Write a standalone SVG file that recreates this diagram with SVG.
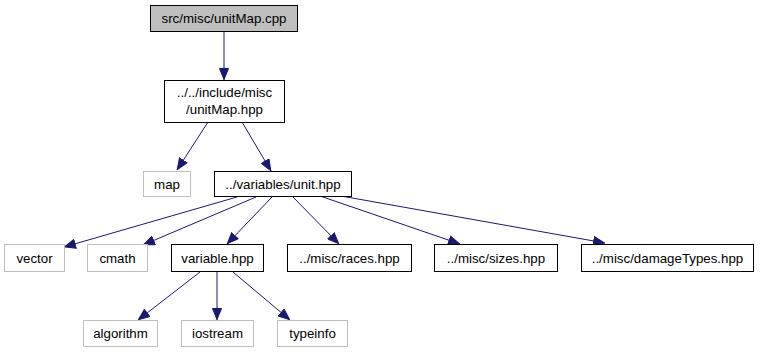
<svg xmlns="http://www.w3.org/2000/svg" width="760" height="352" viewBox="0 0 760 352">
  <style>
    .bg { fill: #ffffff; }
    .node rect { fill: #ffffff; stroke: #000000; stroke-width: 1; }
    .node.root rect { fill: #bfbfbf; }
    .node.ext rect { stroke: #bfbfbf; }
    .node text { font-family: "Liberation Sans", Arial, Helvetica, sans-serif; font-size: 13.3px; fill: #000000; text-anchor: middle; }
    .edges path { fill: none; stroke: #191970; stroke-width: 1; marker-end: url(#arrow); }
  </style>
  <defs>
    <marker id="arrow" markerUnits="userSpaceOnUse" viewBox="0 0 12 10" markerWidth="12" markerHeight="10" refX="12" refY="5" orient="auto">
      <path d="M0.5,0.5 L11.5,5 L0.5,9.5 z" fill="#191970" stroke="#191970" stroke-width="1"/>
    </marker>
  </defs>
  <rect class="bg" x="0" y="0" width="760" height="352"/>

  <g class="edges" id="edges">
    <path d="M224,31 L224,80"/>
    <path d="M208,122 L177,170"/>
    <path d="M242,122 L271,171"/>
    <path d="M237,197 L64,247"/>
    <path d="M256,197 L143,245"/>
    <path d="M272,197 L227,244"/>
    <path d="M293,197 L339,244"/>
    <path d="M320,196 L460,244"/>
    <path d="M341,196 L605,243"/>
    <path d="M200,272 L138,320"/>
    <path d="M217,272 L217,320"/>
    <path d="M233,272 L290,320"/>
  </g>

  <g class="node root" id="node-unitMap-cpp">
    <rect x="150.5" y="5.5" width="147" height="26"/>
    <text x="224" y="23">src/misc/unitMap.cpp</text>
  </g>
  <g class="node" id="node-unitMap-hpp">
    <rect x="164.5" y="80.5" width="120" height="42"/>
    <text x="224.5" y="97">../../include/misc</text>
    <text x="224.5" y="114">/unitMap.hpp</text>
  </g>
  <g class="node ext" id="node-map">
    <rect x="143.5" y="171.5" width="47" height="25"/>
    <text x="167" y="188.5">map</text>
  </g>
  <g class="node" id="node-unit-hpp">
    <rect x="214.5" y="171.5" width="137" height="25"/>
    <text x="283" y="188.5">../variables/unit.hpp</text>
  </g>
  <g class="node ext" id="node-vector">
    <rect x="4.5" y="244.5" width="60" height="27"/>
    <text x="34.5" y="262.5">vector</text>
  </g>
  <g class="node ext" id="node-cmath">
    <rect x="87.5" y="244.5" width="60" height="27"/>
    <text x="117.5" y="262.5">cmath</text>
  </g>
  <g class="node" id="node-variable-hpp">
    <rect x="171.5" y="244.5" width="92" height="27"/>
    <text x="217.5" y="262.5">variable.hpp</text>
  </g>
  <g class="node" id="node-races-hpp">
    <rect x="287.5" y="244.5" width="124" height="27"/>
    <text x="349.5" y="262.5">../misc/races.hpp</text>
  </g>
  <g class="node" id="node-sizes-hpp">
    <rect x="434.5" y="244.5" width="123" height="27"/>
    <text x="496" y="262.5">../misc/sizes.hpp</text>
  </g>
  <g class="node" id="node-damageTypes-hpp">
    <rect x="581.5" y="244.5" width="172" height="27"/>
    <text x="667.5" y="262.5">../misc/damageTypes.hpp</text>
  </g>
  <g class="node ext" id="node-algorithm">
    <rect x="83.5" y="320.5" width="74" height="26"/>
    <text x="120.5" y="338">algorithm</text>
  </g>
  <g class="node ext" id="node-iostream">
    <rect x="181.5" y="320.5" width="72" height="26"/>
    <text x="217.5" y="338">iostream</text>
  </g>
  <g class="node ext" id="node-typeinfo">
    <rect x="277.5" y="320.5" width="70" height="26"/>
    <text x="312.5" y="338">typeinfo</text>
  </g>
</svg>
